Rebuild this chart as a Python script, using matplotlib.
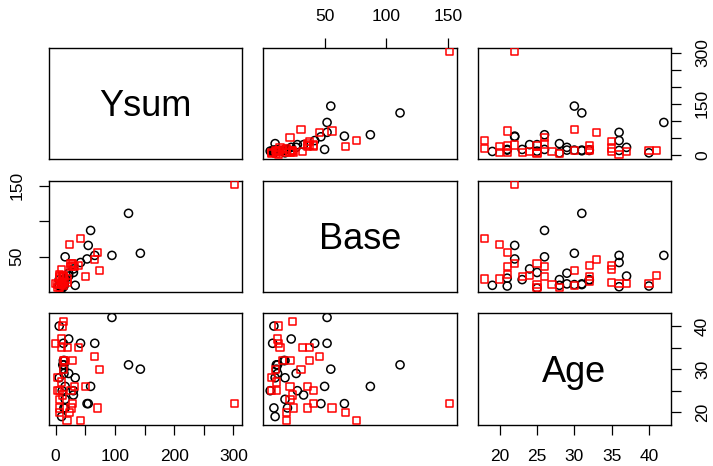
import numpy as np
import matplotlib
matplotlib.use("Agg")
import matplotlib.pyplot as plt
from matplotlib.transforms import offset_copy

plt.rcParams['font.family'] = ['Liberation Sans', 'DejaVu Sans']

# Epilepsy trial: total seizure count over four visits, baseline count, age
# Placebo group
ysum_placebo = [14, 14, 11, 13, 55, 22, 12, 95, 22, 33, 66, 30, 16, 42, 59, 16,
                6, 123, 15, 16, 14, 14, 13, 30, 143, 6, 10, 53]
base_placebo = [11, 11, 6, 8, 66, 27, 12, 52, 23, 10, 52, 33, 18, 42, 87, 50,
                18, 111, 18, 20, 12, 9, 17, 28, 55, 9, 10, 47]
age_placebo = [31, 30, 25, 36, 22, 29, 31, 42, 37, 28, 36, 24, 23, 36, 26, 26,
               28, 31, 32, 21, 29, 21, 32, 25, 30, 40, 19, 22]
# Progabide group
ysum_progabide = [42, 28, 7, 13, 19, 11, 74, 20, 10, 24, 29, 4, 6, 12, 65, 26,
                  39, 7, 32, 3, 302, 13, 26, 10, 70, 13, 15, 51, 6, 0, 10]
base_progabide = [76, 38, 19, 10, 19, 24, 31, 14, 11, 67, 41, 7, 22, 13, 46, 36,
                  38, 7, 36, 11, 151, 22, 41, 32, 56, 24, 16, 22, 25, 13, 12]
age_progabide = [18, 32, 20, 30, 18, 24, 30, 35, 27, 20, 22, 28, 23, 40, 33, 21,
                 35, 25, 26, 25, 22, 32, 25, 35, 21, 41, 32, 26, 21, 36, 37]

var_names = ["Ysum", "Base", "Age"]
placebo = [ysum_placebo, base_placebo, age_placebo]
progabide = [ysum_progabide, base_progabide, age_progabide]

# tick positions and which of them carry labels
ticks = [np.arange(0, 301, 50), np.arange(50, 151, 50), np.arange(20, 41, 5)]
labelled = [[0, 100, 200, 300], [50, 100, 150], [20, 25, 30, 35, 40]]
right_labelled = [[0, 150, 300], None, [20, 30, 40]]
left_labelled = [None, [50, 150], None]


def rng(i):
    vals = np.array(placebo[i] + progabide[i], dtype=float)
    lo, hi = vals.min(), vals.max()
    pad = 0.04 * (hi - lo)
    return lo - pad, hi + pad


W, H = 713, 466
fig = plt.figure(figsize=(W / 100, H / 100), dpi=100)

col_x = [(48.5, 241.7), (263.0, 456.7), (477.7, 671.0)]
row_y = [(47.7, 159.0), (180.7, 292.3), (313.3, 425.0)]

tick_len = 7.2
pad = 10
fs = 12.5
diag_fs = 26

for r in range(3):
    for c in range(3):
        x0, x1 = col_x[c]
        y0, y1 = row_y[r]
        ax = fig.add_axes([x0 / W, 1 - y1 / H, (x1 - x0) / W, (y1 - y0) / H])
        for s in ax.spines.values():
            s.set_linewidth(1.0)
        ax.set_xlim(*rng(c))
        ax.set_ylim(*rng(r))
        ax.tick_params(length=tick_len, width=0.9, labelsize=fs, pad=pad)
        ax.set_xticks([])
        ax.set_yticks([])
        if r == c:
            # baseline placed so the capitals sit centred in the panel
            tr = offset_copy(ax.transAxes, fig=fig, x=0, y=-0.716 * diag_fs / 2,
                             units='points')
            ax.text(0.5, 0.5, var_names[r], transform=tr,
                    ha='center', va='baseline', fontsize=diag_fs)
        else:
            ax.scatter(placebo[c], placebo[r], s=34, marker='o',
                       facecolors='none', edgecolors='black', linewidths=1.1,
                       zorder=3)
            ax.scatter(progabide[c], progabide[r], s=27, marker='s',
                       facecolors='none', edgecolors='red', linewidths=1.1,
                       zorder=3)
        # outer axes, alternating sides as in a scatterplot matrix
        if r == 2 and c in (0, 2):
            ax.set_xticks(ticks[c])
            ax.set_xticklabels([str(t) if t in labelled[c] else '' for t in ticks[c]])
            ax.xaxis.set_ticks_position('bottom')
        if r == 0 and c == 1:
            ax.set_xticks(ticks[c])
            ax.set_xticklabels([str(t) if t in labelled[c] else '' for t in ticks[c]])
            ax.xaxis.set_ticks_position('top')
        if c == 2 and r in (0, 2):
            ax.set_yticks(ticks[r])
            ax.set_yticklabels([str(t) if t in right_labelled[r] else '' for t in ticks[r]],
                               rotation=90, va='center')
            ax.yaxis.set_ticks_position('right')
        if c == 0 and r == 1:
            ax.set_yticks(ticks[r])
            ax.set_yticklabels([str(t) if t in left_labelled[r] else '' for t in ticks[r]],
                               rotation=90, va='center')
            ax.yaxis.set_ticks_position('left')

fig.savefig("out.png", dpi=100)
